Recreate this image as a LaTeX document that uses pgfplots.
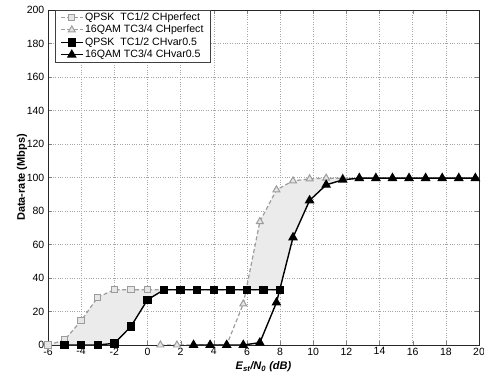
\documentclass[border=0pt]{standalone}
\usepackage{pgfplots}
\pgfplotsset{compat=1.18}
\usepackage{fontspec}
\setmainfont{Liberation Sans}
\definecolor{lg}{HTML}{9C9C9C}
\definecolor{lgfill}{HTML}{E6E6E6}
\definecolor{fillc}{HTML}{EBEBEB}
\begin{document}
\fontsize{10.5bp}{11.5bp}\selectfont
\begin{tikzpicture}
\begin{axis}[
  name=ax,
  scale only axis,
  width=431bp, height=335bp,
  xmin=-6, xmax=20, ymin=0, ymax=200,
  xtick={-6,-4,...,20}, ytick={0,20,...,200},
  /pgf/number format/assume math mode=true,
  tick label style={font=\fontsize{10.5bp}{11.5bp}\selectfont},
  xticklabel style={yshift=1bp},
  grid=major,
  major grid style={dotted, color=gray!70, line width=0.5pt},
  tick align=inside,
  major tick length=4bp,
  axis line style={black!85},
  xlabel={\fontsize{11bp}{12bp}\selectfont\textbf{\textit{E\textsubscript{st}/N\textsubscript{0} (dB)}}},
  ylabel={\fontsize{11bp}{12bp}\selectfont\textbf{Data-rate (Mbps)}},
  xlabel style={at={(axis description cs:0.5,-0.0746)}, anchor=base},
  ylabel style={at={(axis description cs:-0.0603,0.5)}, anchor=center},
  legend image code/.code={\draw[mark repeat=2,mark phase=2,#1] plot coordinates {(0bp,0bp) (11bp,0bp) (22bp,0bp)};},
  legend style={at={(0.016,1)}, anchor=north west, draw=black!75,
    font=\fontsize{10.6bp}{11.5bp}\selectfont, inner xsep=5bp, inner ysep=1bp,
    nodes={inner sep=1.6bp}, row sep=0pt},
  legend cell align=left,
]
% shaded areas
\addplot[fill=fillc, draw=none, forget plot] coordinates {
 (-6,0) (-5,3) (-4,14.5) (-3,28.5) (-2,33) (-1,33) (0,33) (1,33)
 (0,27) (-1,11) (-2,1) (-3,0) (-4,0) (-5,0)} -- cycle;
\addplot[fill=fillc, draw=none, forget plot] coordinates {
 (5.95,33) (6.78,73.7) (7.78,92.6) (8.78,98) (9.78,99.2) (10.78,99.6) (12.78,99.6)
 (11.78,98.6) (10.78,95.6) (9.78,86.3) (8.78,64.2) (7.98,33)} -- cycle;
% QPSK perfect
\addplot[lg, dash pattern=on 4bp off 2.5bp, line width=1.2pt, mark=square*, mark size=3.2bp,
  mark options={solid, fill=lgfill, draw=lg, line width=1pt}] coordinates {
 (-6,0) (-5,3) (-4,14.5) (-3,28.5) (-2,33) (-1,33) (0,33) (1,33) (2,33) (3,33)
 (4,33) (5,33) (6,33) (7,33) (8,33)};
\addlegendentry{QPSK\ \ TC1/2 CHperfect}
% 16QAM perfect
\addplot[lg, dash pattern=on 4bp off 2.5bp, line width=1.2pt, mark=triangle*, mark size=4bp,
  mark options={solid, fill=lgfill, draw=lg, line width=1pt}] coordinates {
 (0.78,0) (1.78,0) (2.78,0) (3.78,0) (4.78,0) (5.78,24.5) (6.78,73.7) (7.78,92.6)
 (8.78,98) (9.78,99.2) (10.78,99.6) (11.78,99.6) (12.78,99.6) (13.78,99.6)
 (14.78,99.6) (15.78,99.6) (16.78,99.6) (17.78,99.6) (18.78,99.6) (19.78,99.6)};
\addlegendentry{16QAM TC3/4 CHperfect}
% QPSK var
\addplot[black, line width=1.4pt, mark=square*, mark size=3.5bp,
  mark options={solid, fill=black}] coordinates {
 (-5,0) (-4,0) (-3,0) (-2,1) (-1,11) (0,27) (1,33) (2,33) (3,33) (4,33)
 (5,33) (6,33) (7,33) (8,33)};
\addlegendentry{QPSK\ \ TC1/2 CHvar0.5}
% 16QAM var
\addplot[black, line width=1.4pt, mark=triangle*, mark size=4.3bp,
  mark options={solid, fill=black}] coordinates {
 (2.78,0) (3.78,0) (4.78,0) (5.78,0) (6.78,1.4) (7.78,25.3) (8.78,64.2)
 (9.78,86.3) (10.78,95.6) (11.78,98.6) (12.78,99.6) (13.78,99.6) (14.78,99.6)
 (15.78,99.6) (16.78,99.6) (17.78,99.6) (18.78,99.6) (19.78,99.6)};
\addlegendentry{16QAM TC3/4 CHvar0.5}
\end{axis}
\pgfresetboundingbox
\path ([xshift=-48bp,yshift=-31bp]ax.south west) rectangle ([xshift=5bp,yshift=10bp]ax.north east);
\end{tikzpicture}
\end{document}
